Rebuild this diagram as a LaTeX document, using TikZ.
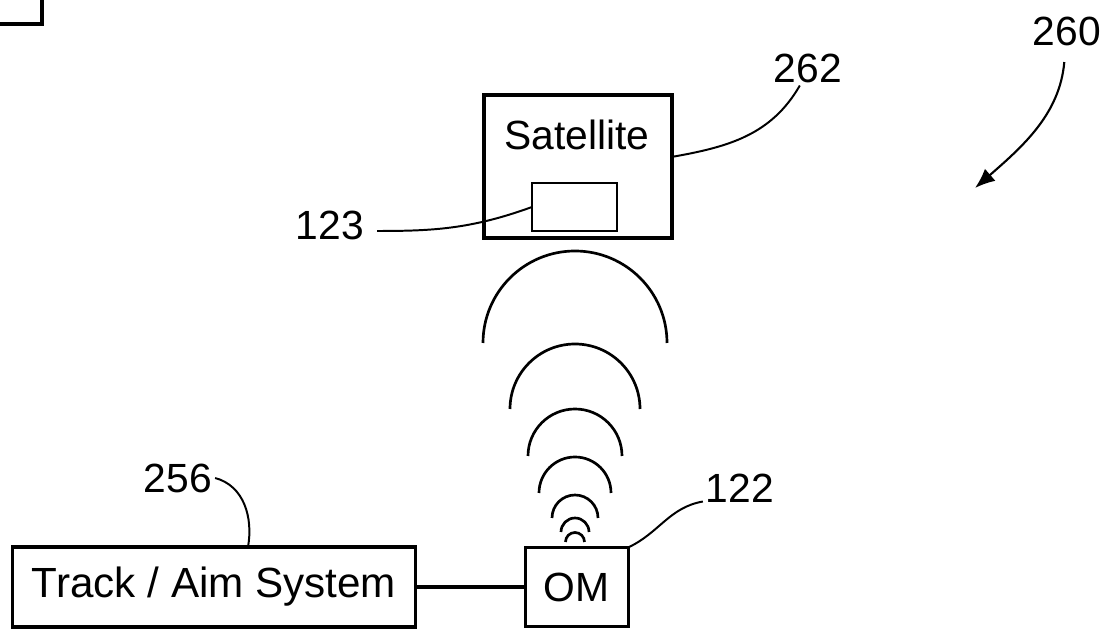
\documentclass[tikz,border=0pt]{standalone}
\usepackage{fontspec}
\setmainfont{Liberation Sans}
\usetikzlibrary{arrows.meta, positioning}

\begin{document}
\begin{tikzpicture}[
			x=0.025cm, y=0.025cm,
			node distance=2.75cm,
			box/.style={rectangle, draw, line width=2.2pt, outer sep=0pt, inner sep=0pt, font=\fontsize{29}{34}\selectfont},
			refnum/.style={font=\fontsize{29}{34}\selectfont, inner sep=2pt},
			leader/.style={line width=1.4pt},
			wave/.style={line width=1.9pt},
			arrow/.style={line width=1.5pt, -{Latex[length=5mm, width=4mm]}}
			]
			\useasboundingbox (0,0) rectangle (1116,629);
			\node[box, minimum width=4.7cm, minimum height=3.575cm] (sat) at (578,462.5) {};
			\node[refnum, anchor=base] (sattext) at (577,479) {Satellite};
			\node[box, line width=1.8pt, minimum width=2.125cm, minimum height=1.2cm] (chip) at (574.5,422) {};
			\node[box, minimum width=10.05cm, minimum height=2cm, font=\fontsize{30}{34}\selectfont] (track) at (214,42) {Track / Aim System};
			\node[box, minimum width=2.575cm, minimum height=1.975cm, right=of track] (om) {OM};
			\node[refnum] (n262) at (808,561) {262};
			\node[refnum] (n123) at (330,404) {123};
			\node[refnum] (n256) at (178,151) {256};
			\node[refnum] (n122) at (740,141) {122};
			\node[refnum] (n260) at (1067,598) {260};
			\coordinate (aim) at (975,441);
			
			\foreach \cy/\r in {286/92, 220/65, 173/47, 136/36, 111/23, 97/14, 87/9.5}
				\draw[wave] (575+\r,\cy) arc (0:180:\r);
			
			\draw[line width=2.4pt] (0,605) -| (42,629);
			\draw[line width=2.4pt] (track) -- (om);
			\draw[leader] (n262.-115) to[out=-120, in=10] ([yshift=0.24cm]sat.east);
			\draw[leader, shorten <=0.25cm] ([yshift=-0.15cm]n123.east) to[out=0, in=200] (chip.west);
			\draw[leader] (n256.east) to[out=-15, in=80] ([xshift=0.85cm]track.north);
			\draw[leader] (n122.200) to[out=190, in=25] (om.north east);
			\draw[arrow, shorten <=0.34cm] (n260) to[out=-95, in=41] (aim);
		\end{tikzpicture}
\end{document}
